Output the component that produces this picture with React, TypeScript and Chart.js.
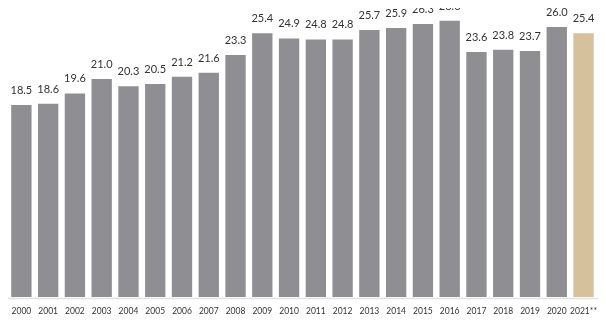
import React, { useEffect, useRef } from "react";
import { Chart, registerables } from "chart.js";

Chart.register(...registerables);

const years = ["2000","2001","2002","2003","2004","2005","2006","2007","2008","2009","2010","2011","2012","2013","2014","2015","2016","2017","2018","2019","2020","2021**"];
const values = [18.5,18.6,19.6,21.0,20.3,20.5,21.2,21.6,23.3,25.4,24.9,24.8,24.8,25.7,25.9,26.3,26.6,23.6,23.8,23.7,26.0,25.4];
const valueLabels = ["18.5","18.6","19.6","21.0","20.3","20.5","21.2","21.6","23.3","25.4","24.9","24.8","24.8","25.7","25.9","26.3","26.6","23.6","23.8","23.7","26.0","25.4"];

const GRAY = "#8f8e93";
const GOLD = "#d5c29c";

const labelPlugin = {
  id: "valueLabels",
  afterDatasetsDraw(chart: any) {
    const ctx = chart.ctx;
    const meta = chart.getDatasetMeta(0);
    ctx.save();
    ctx.font = "11px Lato";
    ctx.fillStyle = "#333333";
    ctx.textAlign = "center";
    ctx.textBaseline = "alphabetic";
    meta.data.forEach((bar: any, i: number) => {
      ctx.fillText(valueLabels[i], bar.x, bar.y - 11);
    });
    ctx.restore();
  },
  beforeDatasetsDraw(chart: any) {
    const ctx = chart.ctx;
    const y = chart.chartArea.bottom + 1.5;
    ctx.save();
    ctx.strokeStyle = "#e2e2e2";
    ctx.lineWidth = 1.5;
    ctx.beginPath();
    ctx.moveTo(0, y);
    ctx.lineTo(chart.width, y);
    ctx.stroke();
    ctx.restore();
  },
};

export default function App() {
  const ref = useRef<HTMLCanvasElement>(null);
  useEffect(() => {
    if (!ref.current) return;
    const chart = new Chart(ref.current, {
      type: "bar",
      data: {
        labels: years,
        datasets: [
          {
            data: values,
            backgroundColor: values.map((_, i) => (i === values.length - 1 ? GOLD : GRAY)),
            barPercentage: 0.76,
            categoryPercentage: 1,
          },
        ],
      },
      options: {
        animation: false,
        responsive: false,
        maintainAspectRatio: false,
        layout: { padding: { left: 8, right: 0, top: 0, bottom: 0 } },
        plugins: { legend: { display: false }, tooltip: { enabled: false } },
        scales: {
          x: {
            grid: { display: false, drawTicks: false },
            border: { display: false },
            ticks: { color: "#333333", font: { family: "Lato", size: 8.5 }, padding: 9, maxRotation: 0, autoSkip: false },
            afterFit: (scale: any) => { scale.height = 23; },
          },
          y: {
            display: false,
            min: 0,
            max: 28.6,
          },
        },
      },
      plugins: [labelPlugin],
    });
    return () => chart.destroy();
  }, []);
  return (
    <div style={{ width: 606, height: 320, marginLeft: -8, marginTop: -8 }}>
      <canvas ref={ref} width={606} height={320} style={{ width: 606, height: 320, display: "block" }} />
    </div>
  );
}
